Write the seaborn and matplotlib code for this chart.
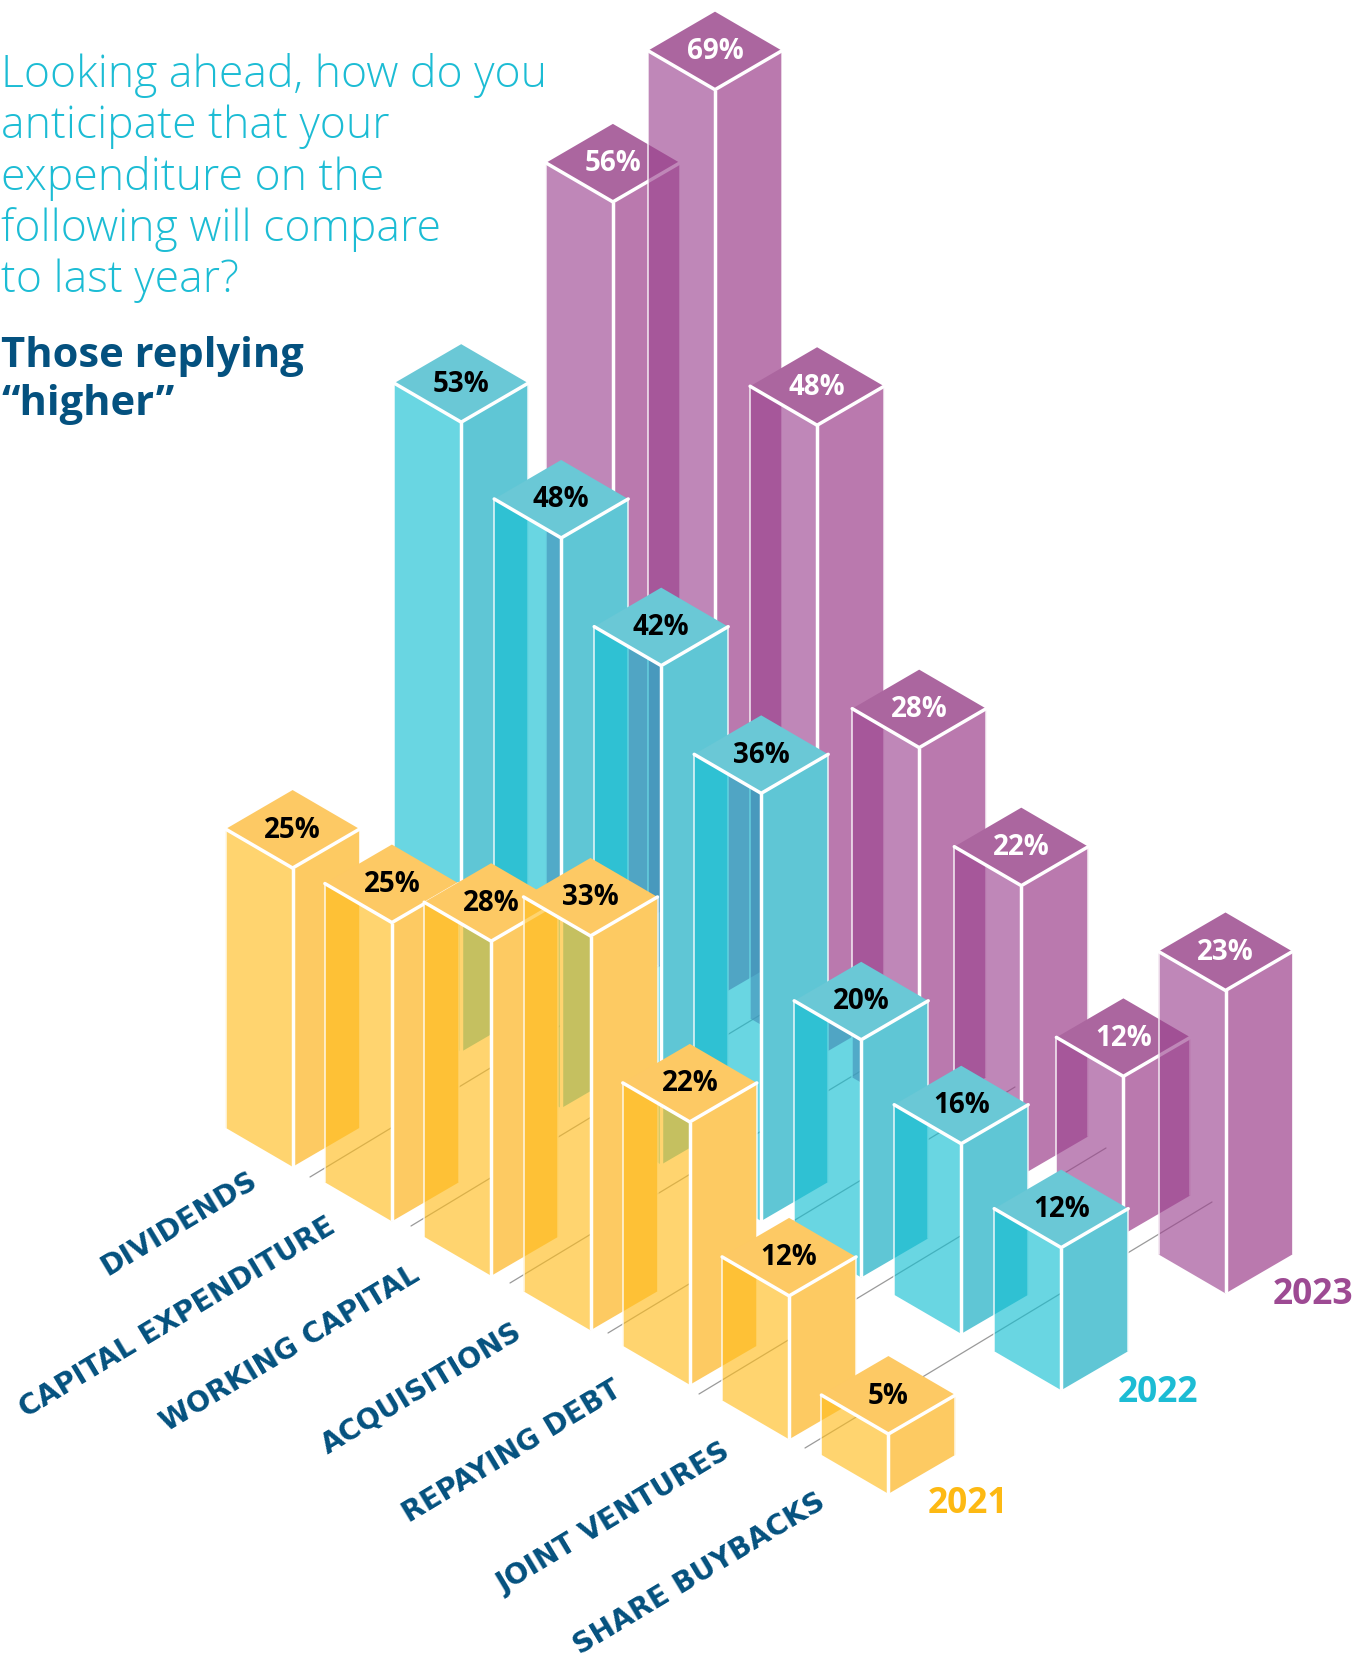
import matplotlib
matplotlib.use("Agg")
import matplotlib.pyplot as plt
import numpy as np
import seaborn as sns

# Survey results: share of respondents replying "higher", % per category and year
categories = ["DIVIDENDS", "CAPITAL EXPENDITURE", "WORKING CAPITAL", "ACQUISITIONS",
              "REPAYING DEBT", "JOINT VENTURES", "SHARE BUYBACKS"]
values_2021 = [25, 25, 28, 33, 22, 12, 5]
values_2022 = [53, 48, 42, 36, 20, 16, 12]
values_2023 = [56, 69, 48, 28, 22, 12, 23]
years = ["2021", "2022", "2023"]

sns.set_theme(style="white")

# Isometric layout per year: front corner of the first bar, step per category, px per %
ISO = {
    "2021": dict(origin=(292.6, 1166.8), step=(99.3, 54.5), scale=11.95),
    "2022": dict(origin=(461.2, 1051.8), step=(100.0, 56.4), scale=11.88),
    "2023": dict(origin=(612.9, 939.4), step=(102.1, 59.0), scale=13.17),
}
HALF_W, HALF_H = 67.0, 39.0

# Face colours: left faces are translucent, right and top faces solid
palette = sns.color_palette(["#FFBD1E", "#14BFD2", "#9C4490"])
STYLE = {
    "2021": dict(left=palette[0], right="#FDCA62", top="#FDC964", text="black", label="#FDB913"),
    "2022": dict(left=palette[1], right="#5FC6D5", top="#6AC8D6", text="black", label="#1CBCD4"),
    "2023": dict(left=palette[2], right="#BA79AE", top="#AB669F", text="white", label="#9D4A93"),
}
LEFT_ALPHA = 0.64

fig, ax = plt.subplots(figsize=(13.53, 16.63), dpi=100)
fig.subplots_adjust(0, 0, 1, 1)
ax.set_xlim(0, 1353)
ax.set_ylim(1663, 0)
ax.axis("off")

# Ground lines separating the category rows
row_line_x = [310, 411, 510, 608, 699, 805]
row_line_y = [1177, 1226, 1283, 1333, 1394, 1448]
for x0, y0 in zip(row_line_x, row_line_y):
    ax.plot([x0, x0 + 407], [y0, y0 - 246], color="#9a9a9a", lw=0.9, zorder=1)


def draw_bar(cat, year, value, z):
    iso, st = ISO[year], STYLE[year]
    bx = iso["origin"][0] + cat * iso["step"][0]
    by = iso["origin"][1] + cat * iso["step"][1]
    ty = by - value * iso["scale"]
    lx, rx = bx - HALF_W, bx + HALF_W
    ax.fill([bx, rx, rx, bx], [ty, ty - HALF_H, by - HALF_H, by], color=st["right"], lw=0, zorder=z)
    ax.fill([lx, bx, rx, bx], [ty - HALF_H, ty, ty - HALF_H, ty - 2 * HALF_H],
            color=st["top"], lw=0, zorder=z + 0.1)
    ax.fill([lx, bx, bx, lx], [ty - HALF_H, ty, by, by - HALF_H], color=st["left"],
            alpha=LEFT_ALPHA, lw=0, zorder=z + 0.2)
    ax.plot([lx, lx], [ty - HALF_H, by - HALF_H], color="white", lw=1.2, alpha=0.8, zorder=z + 0.3)
    ax.plot([rx, rx], [ty - HALF_H, by - HALF_H], color="white", lw=1.2, alpha=0.8, zorder=z + 0.3)
    ax.plot([lx, bx, rx], [ty - HALF_H, ty, ty - HALF_H], color="white", lw=2.5,
            solid_joinstyle="miter", zorder=z + 0.4)
    ax.plot([bx, bx], [ty, by], color="white", lw=2.5, solid_capstyle="butt", zorder=z + 0.4)
    ax.text(bx, ty - HALF_H + 1, f"{value}%", color=st["text"], family="Open Sans", weight="bold",
            fontsize=20, ha="center", va="center", zorder=z + 0.5)


# Paint from the back row to the front, and from the far category to the near one
series = {"2023": values_2023, "2022": values_2022, "2021": values_2021}
z = 2
for year, vals in series.items():
    for cat, val in enumerate(vals):
        draw_bar(cat, year, val, z)
        z += 1

# Year captions at the end of each row
for year, pos in zip(years, [(968, 1513), (1158, 1402), (1313, 1304)]):
    ax.text(pos[0], pos[1], year, color=STYLE[year]["label"], family="Open Sans", weight="bold",
            fontsize=25.5, ha="center", va="baseline", zorder=200)

# Category captions running along the rows
label_ends = [(259, 1185), (337, 1231), (421, 1279), (524, 1337), (623, 1394), (732, 1456), (827, 1507)]
for name, (x, y) in zip(categories, label_ends):
    ax.text(x, y, name, color="#04517F", family="DejaVu Sans", weight="bold", fontsize=20.3,
            rotation=31, rotation_mode="anchor", ha="right", va="baseline", zorder=200)

# Heading
question = ["Looking ahead, how do you", "anticipate that your", "expenditure on the",
            "following will compare", "to last year?"]
for line, base in zip(question, [87, 138, 190, 241, 292]):
    ax.text(1, base, line, color="#1CBCD4", family="Open Sans", weight="light", fontsize=32,
            ha="left", va="baseline", zorder=200)
for line, base in zip(["Those replying", "\u201chigher\u201d"], [367, 415]):
    ax.text(1, base, line, color="#04517F", family="Open Sans", weight="bold", fontsize=30,
            ha="left", va="baseline", zorder=200)

fig.savefig("out.png", dpi=100, facecolor="white")
